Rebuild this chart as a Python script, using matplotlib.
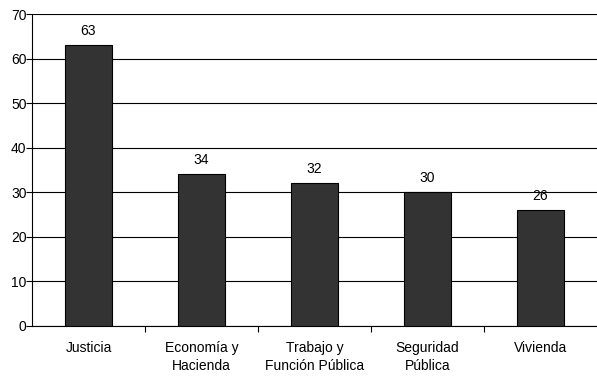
import numpy as np
import matplotlib.pyplot as plt

plt.rcParams['font.family'] = ['Liberation Sans', 'DejaVu Sans']

categories = ["Justicia", "Economía y\nHacienda", "Trabajo y\nFunción Pública",
              "Seguridad\nPública", "Vivienda"]
values = [63, 34, 32, 30, 26]

fig = plt.figure(figsize=(5.97, 3.79), dpi=100)
ax = fig.add_axes([0.0536, 0.14, 0.9464, 0.823])

x = np.arange(len(categories))
bars = ax.bar(x, values, width=0.41, color='#333333', edgecolor='black',
              linewidth=0.8, zorder=3)
for xi, v in zip(x, values):
    ax.text(xi, v + 1.6, str(v), ha='center', va='bottom', fontsize=10)

ax.set_xlim(-0.5, len(categories) - 0.5)
ax.set_ylim(0, 70)
ax.set_yticks(np.arange(0, 71, 10))
ax.yaxis.grid(True, color='black', linewidth=0.8, zorder=0)
ax.tick_params(axis='y', labelsize=10, length=4, width=0.8, pad=0)

# category labels centred, tick marks between categories
ax.set_xticks(x)
ax.set_xticklabels(categories, fontsize=10, linespacing=1.3)
ax.tick_params(axis='x', which='major', length=0, pad=11)
ax.set_xticks(np.arange(0.5, len(categories) - 0.5, 1), minor=True)
ax.tick_params(axis='x', which='minor', length=4, width=0.8)

for s in ['top', 'right']:
    ax.spines[s].set_visible(False)
for s in ['left', 'bottom']:
    ax.spines[s].set_linewidth(0.8)

fig.savefig('out.png', dpi=100)
